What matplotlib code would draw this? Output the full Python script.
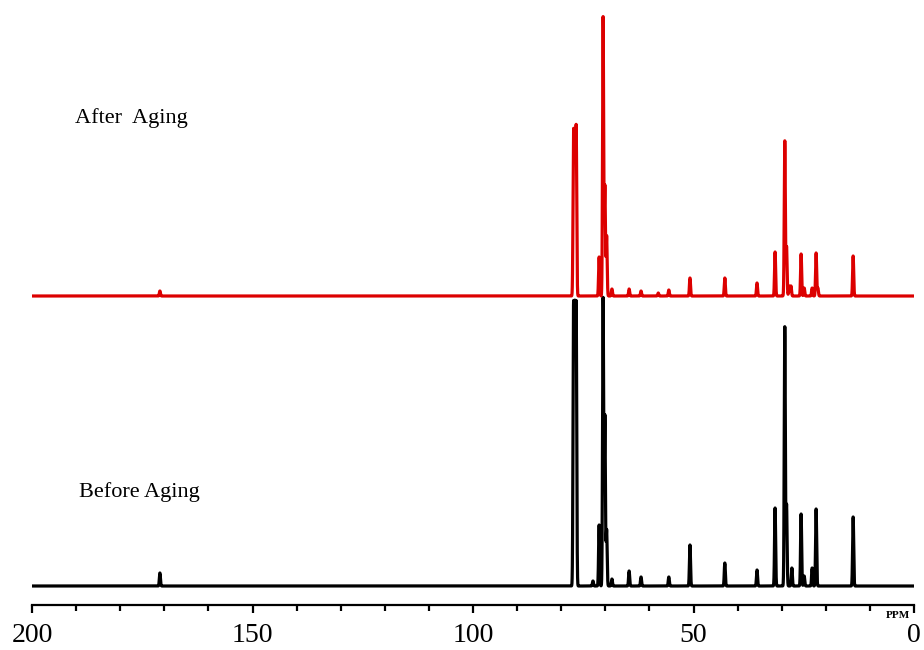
import numpy as np
import matplotlib
matplotlib.use("Agg")
import matplotlib.pyplot as plt
from matplotlib.ticker import MultipleLocator

# peak positions (ppm) and heights
after_ppm = [171.0, 77.2, 76.9, 76.6, 71.4, 70.5, 70.1, 69.7, 68.5, 64.6, 61.9, 58.0,
             55.6, 50.8, 42.9, 35.6, 31.5, 29.3, 28.9, 28.3, 27.9, 25.6, 24.9, 23.1,
             22.2, 21.8, 13.8]
after_h = [5, 160, 150, 164, 39, 279, 110, 60, 7, 7, 5, 3,
           6, 18, 18, 13, 44, 155, 49, 10, 10, 42, 8, 8,
           43, 8, 40]

before_ppm = [171.0, 77.2, 76.9, 76.6, 72.8, 71.4, 70.5, 70.1, 69.7, 68.5, 64.6, 61.9,
              55.6, 50.8, 42.9, 35.6, 31.5, 29.3, 28.9, 27.7, 25.6, 24.9, 23.1, 22.2,
              13.8]
before_h = [13, 272, 262, 272, 5, 61, 288, 170, 56, 7, 15, 9,
            9, 41, 23, 16, 78, 259, 81, 18, 72, 10, 18, 77,
            69]

after_offset = 290
labels = ["After  Aging", "Before Aging"]

ppm = np.linspace(200, 0, 40001)


def spectrum(pos, h, s=0.12):
    y = np.zeros_like(ppm)
    for p, a in zip(pos, h):
        y += a * np.exp(-0.5 * ((ppm - p) / s)**2)
    return y


plt.rcParams['font.family'] = ['Liberation Serif', 'DejaVu Serif']

fig = plt.figure(figsize=(9.24, 6.5), dpi=100)
ax = fig.add_axes([32/924, 45/650, 882/924, 595/650])

ax.plot(ppm, spectrum(before_ppm, before_h), color='black', lw=2.3)
ax.plot(ppm, spectrum(after_ppm, after_h) + after_offset, color='#dc0000', lw=2.3)

ax.set_xlim(200, 0)
ax.set_ylim(-19, 576)
for s in ['left', 'right', 'top']:
    ax.spines[s].set_visible(False)
ax.spines['bottom'].set_linewidth(1.6)
ax.set_yticks([])
ax.xaxis.set_major_locator(MultipleLocator(50))
ax.xaxis.set_minor_locator(MultipleLocator(10))
ax.tick_params(axis='x', which='major', length=6, width=1.6, labelsize=20, pad=7)
ax.tick_params(axis='x', which='minor', length=4, width=1.6)

ax.text(190.2, 463, labels[0], fontsize=16, ha='left', va='baseline')
ax.text(189.3, 89, labels[1], fontsize=16, ha='left', va='baseline')
ax.text(3.7, -32, "PPM", fontsize=8, fontweight='bold', ha='center', va='baseline',
        clip_on=False)

fig.savefig("out.png", dpi=100)
